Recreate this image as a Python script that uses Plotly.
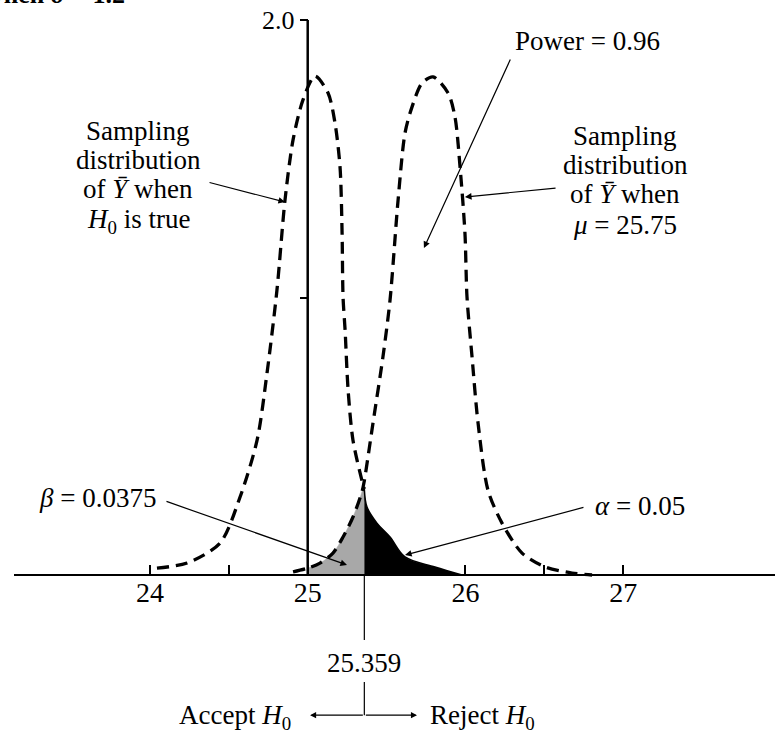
import plotly.graph_objects as go

# ---- data ----
# Sampling distribution of Y-bar when H0 is true (mu = 25)
h0_x = [24.044, 24.235, 24.444, 24.571, 24.679, 24.742, 24.805, 24.856, 24.907, 24.970,
        25.046, 25.129, 25.173, 25.205, 25.218, 25.224, 25.237, 25.256, 25.287, 25.344,
        25.359, 25.376, 25.439, 25.522, 25.617, 25.807, 25.978]
h0_y = [0.025, 0.043, 0.115, 0.281, 0.486, 0.728, 1.027, 1.351, 1.568, 1.712,
        1.798, 1.737, 1.629, 1.470, 1.232, 1.002, 0.883, 0.667, 0.486, 0.340,
        0.310, 0.245, 0.187, 0.137, 0.065, 0.029, 0.0]
# Sampling distribution of Y-bar when mu = 25.75
h1_x = [24.907, 25.002, 25.078, 25.160, 25.224, 25.287, 25.344, 25.359, 25.414, 25.477,
        25.522, 25.573, 25.617, 25.661, 25.725, 25.795, 25.890, 25.934, 25.966, 25.997,
        26.010, 26.042, 26.080, 26.143, 26.232, 26.359, 26.505, 26.676, 26.803]
h1_y = [0.011, 0.025, 0.043, 0.079, 0.137, 0.209, 0.300, 0.340, 0.548, 0.786,
        0.991, 1.351, 1.593, 1.686, 1.773, 1.795, 1.737, 1.650, 1.470, 1.232,
        1.002, 0.786, 0.548, 0.306, 0.187, 0.079, 0.029, 0.007, 0.0]

critical = 25.359
mu0 = 25.0
x_tickvals = [24, 24.5, 25, 25.5, 26, 26.5, 27]
x_ticktext = ["24", "", "25", "", "26", "", "27"]
y_tickvals = [1.0, 2.0]
y_ticktext = ["", "2.0"]

# ---- layout geometry ----
W, H = 775, 740
x_range = [23.1376, 27.963]
x_domain = [14 / 775, 1.0]
y_range = [-0.5946, 2.0721]

FONT = "Liberation Serif"
fs = 27

fig = go.Figure()

# beta region (under H1 curve, accept region)
bx = [x for x in h1_x if mu0 <= x <= critical]
by = [y for x, y in zip(h1_x, h1_y) if mu0 <= x <= critical]
fig.add_trace(go.Scatter(x=bx, y=by, mode="lines", fill="tozeroy",
                         fillcolor="#a8a8a8", line=dict(color="#a8a8a8", width=0.5, shape="spline"),
                         hoverinfo="skip"))
# alpha region (under H0 curve, reject region)
axx = [x for x in h0_x if x >= critical]
ayy = [y for x, y in zip(h0_x, h0_y) if x >= critical]
fig.add_trace(go.Scatter(x=axx, y=ayy, mode="lines", fill="tozeroy",
                         fillcolor="black", line=dict(color="black", width=1.5, shape="spline"),
                         hoverinfo="skip"))

# dashed curves
dash = "12px,7px"
lx = [x for x in h0_x if x <= critical]
ly = [y for x, y in zip(h0_x, h0_y) if x <= critical]
fig.add_trace(go.Scatter(x=lx, y=ly, mode="lines",
                         line=dict(color="black", width=3.3, dash=dash, shape="spline", smoothing=0.8),
                         hoverinfo="skip"))
fig.add_trace(go.Scatter(x=h1_x, y=h1_y, mode="lines",
                         line=dict(color="black", width=3.3, dash=dash, shape="spline", smoothing=0.8),
                         hoverinfo="skip"))

# y-axis line at mu0, and critical-value line below the axis
shapes = [
    dict(type="line", xref="x", yref="y", x0=mu0, x1=mu0, y0=0, y1=2.0,
         line=dict(color="black", width=2.5)),
    dict(type="line", xref="x", yref="y", x0=critical, x1=critical, y0=0, y1=-0.234,
         line=dict(color="black", width=1.2)),
    dict(type="line", xref="x", yref="y", x0=critical, x1=critical, y0=-0.386, y1=-0.505,
         line=dict(color="black", width=1.2)),
]

def txt(x, y, t, xanchor="center", size=fs, xref="x", yref="y"):
    return dict(x=x, y=y, xref=xref, yref=yref, text=t, showarrow=False,
                xanchor=xanchor, yanchor="middle",
                font=dict(family=FONT, size=size, color="black"))

def arrow(tx, ty, ax, ay, width=1.2):
    return dict(x=tx, y=ty, ax=ax, ay=ay, xref="x", yref="y", axref="x", ayref="y",
                text="", showarrow=True, arrowhead=2, arrowsize=1.1, arrowwidth=width,
                arrowcolor="black")

ybar = "<i>\u0232</i>"
annotations = [
    # left label
    txt(23.924, 1.600, "Sampling"),
    txt(23.924, 1.496, "distribution"),
    txt(23.924, 1.391, "of " + ybar + " when"),
    txt(23.924, 1.277, "<i>H</i><sub>0</sub> is true"),
    arrow(24.856, 1.344, 24.368, 1.416),
    # right label
    txt(27.012, 1.582, "Sampling"),
    txt(27.012, 1.478, "distribution"),
    txt(27.012, 1.374, "of " + ybar + " when"),
    txt(27.012, 1.262, "<i>\u03bc</i> = 25.75"),
    arrow(25.997, 1.362, 26.581, 1.395),
    # power
    txt(26.771, 1.924, "Power = 0.96"),
    arrow(25.737, 1.178, 26.289, 1.863),
    # beta / alpha
    txt(24.051, 0.277, "<i>\u03b2</i> = 0.0375", xanchor="right"),
    arrow(25.249, 0.036, 24.095, 0.267),
    txt(26.809, 0.249, "<i>\u03b1</i> = 0.05", xanchor="left"),
    arrow(25.617, 0.072, 26.758, 0.245),
    # critical value and decision
    txt(critical, -0.317, "25.359"),
    txt(24.907, -0.512, "Accept <i>H</i><sub>0</sub>", xanchor="right"),
    txt(25.763, -0.512, "Reject <i>H</i><sub>0</sub>", xanchor="left"),
    arrow(25.015, -0.505, critical, -0.505, width=1.1),
    arrow(25.693, -0.505, critical, -0.505, width=1.1),
    # clipped caption at the very top
    dict(x=127 / 775, y=1 + 5 / 740, xref="paper", yref="paper",
         text="<b>when <i>\u03c3</i> = 1.2</b>", showarrow=False,
         xanchor="right", yanchor="middle",
         font=dict(family=FONT, size=26, color="black")),
]

ypos_x = x_domain[0] + (mu0 - x_range[0]) / (x_range[1] - x_range[0]) * (x_domain[1] - x_domain[0])
xpos_y = (0 - y_range[0]) / (y_range[1] - y_range[0])

fig.update_layout(
    width=W, height=H,
    margin=dict(l=0, r=0, t=0, b=0),
    paper_bgcolor="white", plot_bgcolor="white",
    showlegend=False, hovermode=False,
    font=dict(family=FONT, color="black"),
    shapes=shapes, annotations=annotations,
    xaxis=dict(range=x_range, domain=x_domain, anchor="free", position=xpos_y,
               showline=True, linecolor="black", linewidth=2,
               ticks="inside", ticklen=9, tickwidth=1.5, tickcolor="black",
               tickvals=x_tickvals, ticktext=x_ticktext,
               tickfont=dict(family=FONT, size=28, color="black"),
               ticklabelstandoff=-8,
               showgrid=False, zeroline=False, fixedrange=True),
    yaxis=dict(range=y_range, domain=[0, 1], anchor="free", position=ypos_x,
               showline=False, ticks="outside", ticklen=8, tickwidth=2, tickcolor="black",
               tickvals=y_tickvals, ticktext=y_ticktext,
               tickfont=dict(family=FONT, size=26, color="black"),
               showgrid=False, zeroline=False, fixedrange=True),
)

fig.write_html("out.html", config={"displayModeBar": False},
               post_script="document.body.style.margin='0';")
